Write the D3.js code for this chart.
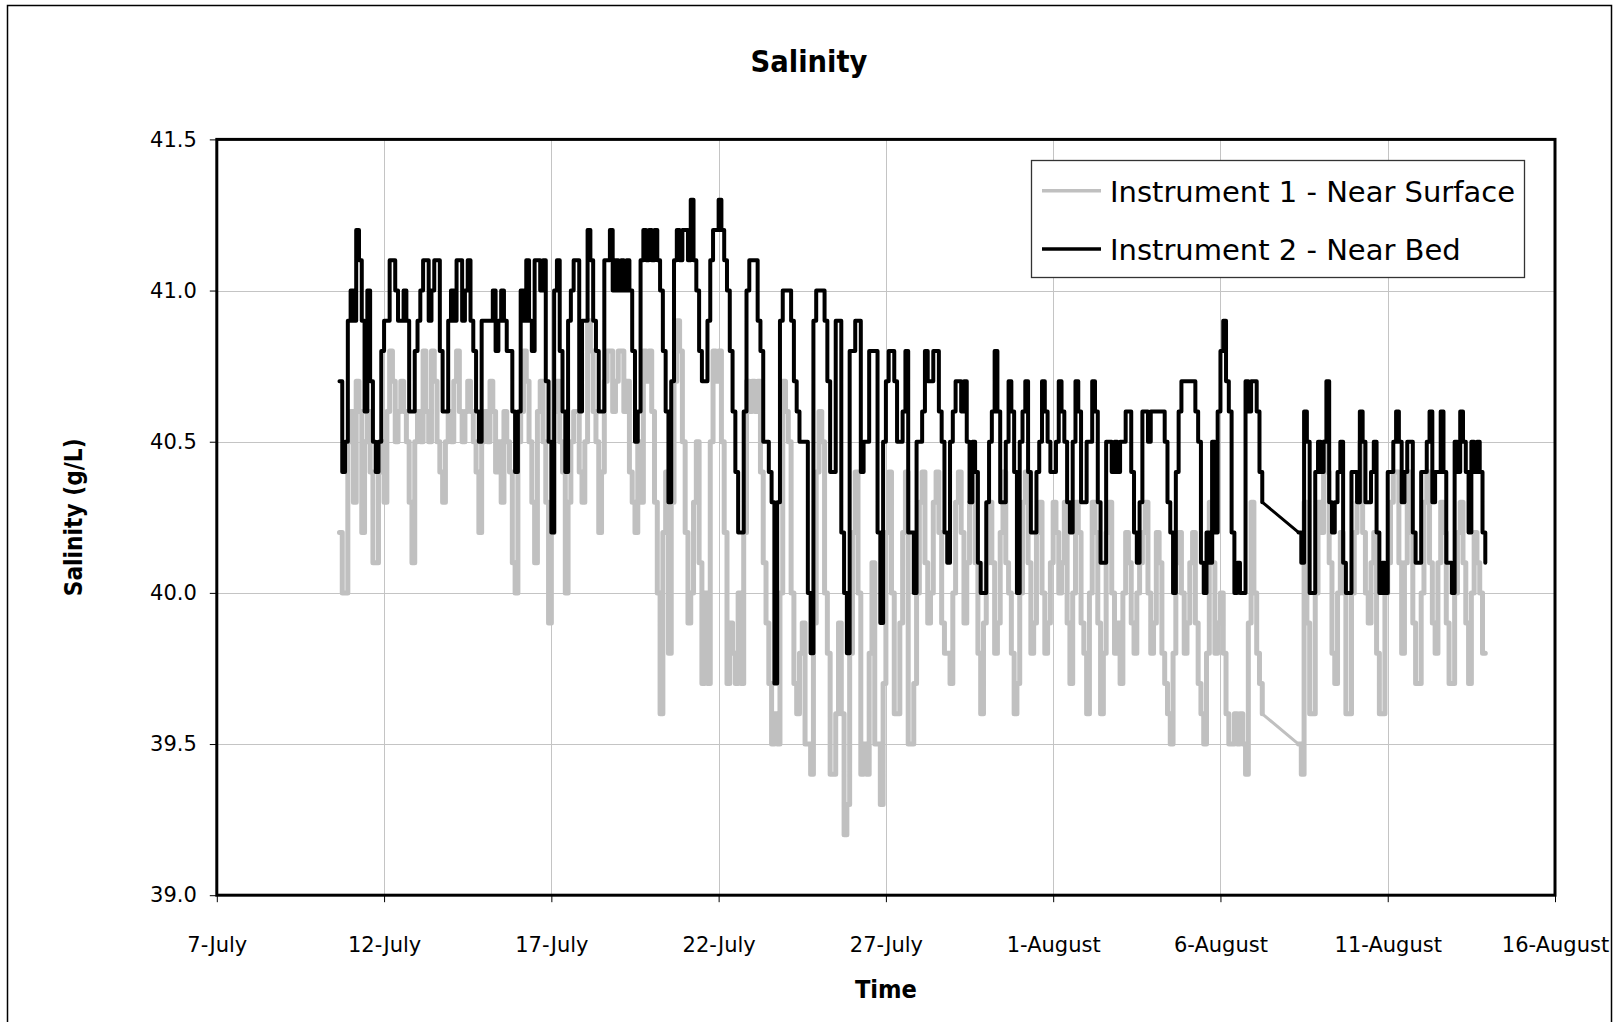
<!DOCTYPE html>
<html>
<head>
<meta charset="utf-8">
<title>Salinity</title>
<script src="https://cdn.jsdelivr.net/npm/d3@7"></script>
<style>
  html, body { margin: 0; padding: 0; background: #fff; }
  svg { display: block; font-family: "DejaVu Sans", Verdana, sans-serif; }
</style>
</head>
<body>
<svg id="chart" width="1619" height="1022"></svg>
<script>
// ---- Salinity records (g/L), one reading every 2 hours ----
// Recording was interrupted between 7 Aug 06:00 and 8 Aug 08:00, so each
// instrument is stored as two runs that start at SEGMENT_STARTS.
const SEGMENT_STARTS = ["2007-07-10T16:00", "2007-08-08T08:00"];
const STEP_HOURS = 2;

// Instrument 1 - near surface, run 1 (10 Jul 16:00 .. 7 Aug 06:00)
const SURFACE_RUN1 = [
  40.2, 40.0, 40.0, 40.5,
  40.6, 40.3, 40.7, 40.6, 40.2, 40.5, 40.6, 40.4, 40.1, 40.1, 40.4, 40.5,
  40.3, 40.6, 40.8, 40.7, 40.5, 40.6, 40.7, 40.6, 40.5, 40.3, 40.1, 40.5,
  40.6, 40.5, 40.8, 40.6, 40.5, 40.8, 40.7, 40.5, 40.4, 40.3, 40.5, 40.6,
  40.5, 40.7, 40.8, 40.6, 40.5, 40.6, 40.7, 40.6, 40.5, 40.4, 40.2, 40.5,
  40.6, 40.5, 40.7, 40.6, 40.4, 40.5, 40.3, 40.6, 40.5, 40.4, 40.1, 40.0,
  40.5, 40.6, 40.8, 40.7, 40.5, 40.3, 40.1, 40.6, 40.7, 40.5, 40.3, 39.9,
  40.2, 40.6, 40.7, 40.5, 40.4, 40.0, 40.3, 40.5, 40.6, 40.6, 40.4, 40.3,
  40.5, 40.9, 40.8, 40.6, 40.5, 40.2, 40.4, 40.7, 40.8, 40.8, 40.6, 40.7,
  40.8, 40.8, 40.6, 40.7, 40.4, 40.3, 40.2, 40.5, 40.3, 40.8, 40.7, 40.8,
  40.6, 40.3, 40.0, 39.6, 40.2, 40.4, 39.8, 40.3, 40.7, 40.9, 40.8, 40.5,
  40.2, 39.9, 40.0, 40.3, 40.5, 40.1, 39.7, 40.0, 39.7, 40.5, 40.8, 40.7,
  40.8, 40.5, 40.2, 39.7, 39.9, 39.8, 39.7, 40.0, 39.7, 40.2, 40.7, 40.6,
  40.7, 40.6, 40.7, 40.4, 40.1, 39.9, 39.7, 39.5, 39.6, 39.5, 40.0, 40.7,
  40.6, 40.5, 40.0, 39.7, 39.6, 39.8, 39.9, 39.5, 39.5, 39.4, 39.9, 40.4,
  40.6, 40.5, 40.0, 39.8, 39.4, 39.4, 39.6, 39.9, 39.6, 39.2, 39.3, 39.8,
  40.2, 40.4, 40.0, 39.4, 39.5, 39.4, 39.8, 40.1, 39.5, 39.5, 39.3, 39.7,
  40.2, 40.4, 40.0, 39.6, 39.6, 39.9, 40.2, 40.4, 39.5, 39.5, 39.7, 40.0,
  40.3, 40.4, 40.1, 39.9, 40.0, 40.3, 40.4, 40.2, 39.9, 39.8, 39.8, 39.7,
  40.0, 40.3, 40.4, 40.2, 39.9, 40.1, 40.3, 40.4, 40.1, 39.8, 39.6, 39.9,
  40.1, 40.3, 40.1, 39.8, 39.9, 40.2, 40.4, 40.1, 40.0, 39.8, 39.6, 39.7,
  40.0, 40.3, 40.4, 40.1, 39.8, 39.9, 40.2, 40.3, 40.0, 39.8, 39.9, 40.1,
  40.3, 40.2, 40.0, 40.1, 40.3, 39.9, 39.7, 40.0, 40.3, 40.2, 39.9, 39.8,
  39.6, 40.0, 40.3, 40.2, 39.9, 39.6, 39.8, 40.2, 40.3, 40.0, 39.8, 39.9,
  39.7, 40.0, 40.2, 40.1, 39.9, 39.8, 40.0, 40.1, 40.2, 40.3, 40.0, 39.8,
  39.9, 40.2, 40.1, 39.8, 39.7, 39.6, 39.5, 39.8, 40.1, 40.2, 40.0, 39.8,
  39.9, 40.1, 40.2, 39.9, 39.7, 39.6, 39.5, 39.8, 40.3, 40.1, 39.8, 39.9,
  40.0, 39.8, 39.6, 39.5, 39.5, 39.6, 39.5, 39.6, 39.5, 39.4, 39.9, 40.3,
  40.0, 39.8, 39.7, 39.6
];

// Instrument 1 - near surface, run 2 (8 Aug 08:00 .. 13 Aug 22:00)
const SURFACE_RUN2 = [
  39.5, 39.4, 40.3, 39.9, 39.6, 39.6, 40.0, 40.3,
  40.2, 40.5, 40.4, 40.1, 39.8, 39.7, 40.0, 40.2, 40.0, 39.6, 39.6, 40.0,
  40.2, 40.3, 40.5, 40.2, 40.0, 39.9, 40.1, 40.2, 39.8, 39.6, 39.6, 40.0,
  40.1, 40.3, 40.4, 40.4, 40.1, 39.8, 40.1, 40.4, 40.2, 39.9, 39.7, 39.7,
  40.0, 40.3, 40.4, 40.1, 39.9, 39.8, 40.1, 40.3, 40.2, 39.9, 39.7, 39.7,
  40.0, 40.2, 40.3, 40.1, 39.9, 39.7, 40.0, 40.2, 40.1, 40.0, 39.8, 39.8
];

// Instrument 2 - near bed, run 1 (10 Jul 16:00 .. 7 Aug 06:00)
const BED_RUN1 = [
  40.7, 40.4, 40.5, 40.9,
  41.0, 40.9, 41.2, 41.1, 40.9, 40.6, 41.0, 40.7, 40.5, 40.4, 40.5, 40.8,
  40.9, 40.9, 41.1, 41.1, 41.0, 40.9, 40.9, 41.0, 40.9, 40.6, 40.6, 40.8,
  40.9, 41.0, 41.1, 41.1, 40.9, 41.0, 41.1, 41.1, 40.8, 40.6, 40.6, 40.9,
  41.0, 40.9, 41.1, 41.1, 40.9, 41.0, 41.1, 40.9, 40.8, 40.6, 40.5, 40.9,
  40.9, 40.9, 40.9, 41.0, 40.8, 40.9, 41.0, 40.9, 40.8, 40.8, 40.6, 40.4,
  40.6, 41.0, 40.9, 41.1, 40.9, 40.8, 41.1, 41.1, 41.0, 41.1, 40.7, 40.5,
  40.2, 41.0, 41.1, 40.8, 40.6, 40.4, 40.9, 41.0, 41.1, 41.1, 40.6, 40.9,
  40.9, 41.2, 41.1, 40.9, 40.8, 40.6, 40.6, 41.1, 41.1, 41.2, 41.0, 41.1,
  41.0, 41.1, 41.0, 41.1, 41.0, 40.8, 40.5, 40.6, 41.1, 41.2, 41.1, 41.2,
  41.1, 41.2, 41.1, 41.0, 40.8, 40.6, 40.3, 40.7, 41.1, 41.2, 41.1, 41.2,
  41.2, 41.1, 41.3, 41.1, 41.0, 40.8, 40.7, 40.7, 40.9, 41.1, 41.2, 41.2,
  41.3, 41.2, 41.1, 41.0, 40.8, 40.6, 40.4, 40.2, 40.2, 40.6, 41.0, 41.1,
  41.1, 41.1, 40.9, 40.8, 40.5, 40.5, 40.4, 40.3, 39.7, 40.3, 40.9, 41.0,
  41.0, 41.0, 40.9, 40.7, 40.6, 40.5, 40.5, 40.5, 40.0, 39.8, 40.9, 41.0,
  41.0, 41.0, 40.9, 40.7, 40.4, 40.4, 40.9, 40.9, 40.2, 40.0, 39.8, 40.8,
  40.8, 40.9, 40.9, 40.4, 40.5, 40.5, 40.8, 40.8, 40.8, 40.2, 39.9, 40.5,
  40.7, 40.8, 40.8, 40.7, 40.5, 40.5, 40.6, 40.8, 40.2, 40.2, 40.0, 40.5,
  40.5, 40.6, 40.8, 40.7, 40.7, 40.8, 40.8, 40.6, 40.5, 40.2, 40.1, 40.5,
  40.6, 40.7, 40.7, 40.6, 40.7, 40.5, 40.3, 40.5, 40.4, 40.1, 40.0, 40.0,
  40.3, 40.5, 40.6, 40.8, 40.6, 40.3, 40.3, 40.5, 40.7, 40.6, 40.4, 40.0,
  40.5, 40.6, 40.7, 40.4, 40.2, 40.2, 40.4, 40.5, 40.7, 40.6, 40.5, 40.4,
  40.4, 40.5, 40.7, 40.6, 40.5, 40.3, 40.2, 40.5, 40.7, 40.6, 40.3, 40.3,
  40.5, 40.5, 40.7, 40.6, 40.3, 40.1, 40.1, 40.5, 40.5, 40.4, 40.5, 40.4,
  40.5, 40.5, 40.6, 40.6, 40.4, 40.2, 40.1, 40.3, 40.6, 40.6, 40.5, 40.6,
  40.6, 40.6, 40.6, 40.6, 40.5, 40.3, 40.2, 40.0, 40.4, 40.6, 40.7, 40.7,
  40.7, 40.7, 40.7, 40.6, 40.5, 40.1, 40.0, 40.2, 40.1, 40.5, 40.2, 40.6,
  40.8, 40.9, 40.7, 40.6, 40.2, 40.0, 40.1, 40.0, 40.0, 40.7, 40.6, 40.7,
  40.7, 40.6, 40.4, 40.3
];

// Instrument 2 - near bed, run 2 (8 Aug 08:00 .. 13 Aug 22:00)
const BED_RUN2 = [
  40.2, 40.1, 40.6, 40.5, 40.0, 40.0, 40.4, 40.5,
  40.4, 40.5, 40.7, 40.3, 40.2, 40.3, 40.4, 40.5, 40.1, 40.0, 40.0, 40.4,
  40.4, 40.3, 40.6, 40.5, 40.3, 40.3, 40.4, 40.5, 40.2, 40.0, 40.1, 40.0,
  40.4, 40.4, 40.5, 40.6, 40.5, 40.3, 40.4, 40.5, 40.5, 40.2, 40.1, 40.1,
  40.4, 40.4, 40.5, 40.6, 40.3, 40.4, 40.4, 40.6, 40.4, 40.1, 40.1, 40.0,
  40.5, 40.4, 40.6, 40.5, 40.4, 40.2, 40.5, 40.4, 40.5, 40.4, 40.2, 40.1
];

const SERIES_NAMES = ["Instrument 1 - Near Surface", "Instrument 2 - Near Bed"];
const SERIES_COLORS = ["#c0c0c0", "#000000"];
const SERIES_WIDTHS = [5, 4];

const X_TICK_DATES = ["2007-07-07", "2007-07-12", "2007-07-17", "2007-07-22", "2007-07-27",
                      "2007-08-01", "2007-08-06", "2007-08-11", "2007-08-16"];
const Y_TICKS = [39.0, 39.5, 40.0, 40.5, 41.0, 41.5];

const TITLE = "Salinity";
const X_TITLE = "Time";
const Y_TITLE = "Salinity (g/L)";

// ---- layout ----
const plot = { left: 216.8, right: 1555, top: 139.4, bottom: 895.2 };

const parseStamp = d3.utcParse("%Y-%m-%dT%H:%M");
const parseDay = d3.utcParse("%Y-%m-%d");
const tickDates = X_TICK_DATES.map(parseDay);

const x = d3.scaleUtc()
  .domain([tickDates[0], tickDates[tickDates.length - 1]])
  .range([plot.left, plot.right]);
const y = d3.scaleLinear()
  .domain([Y_TICKS[0], Y_TICKS[Y_TICKS.length - 1]])
  .range([plot.bottom, plot.top]);

// each run becomes a list of {t, v} points
function buildRuns(runs) {
  return runs.map((vals, i) => {
    const start = parseStamp(SEGMENT_STARTS[i]);
    return vals.map((v, k) => ({ t: d3.utcHour.offset(start, k * STEP_HOURS), v }));
  });
}
const series = [
  buildRuns([SURFACE_RUN1, SURFACE_RUN2]),
  buildRuns([BED_RUN1, BED_RUN2])
];

const svg = d3.select("#chart");

// outer chart frame
svg.append("rect")
  .attr("x", 7.5).attr("y", 5.5)
  .attr("width", 1604).attr("height", 1030)
  .attr("fill", "#fff").attr("stroke", "#000").attr("stroke-width", 1.5);

// gridlines
const grid = svg.append("g").attr("stroke", "#c4c4c4").attr("stroke-width", 1);
grid.selectAll("line.h").data(Y_TICKS).join("line")
  .attr("x1", plot.left).attr("x2", plot.right)
  .attr("y1", d => Math.round(y(d)) + 0.5).attr("y2", d => Math.round(y(d)) + 0.5);
grid.selectAll("line.v").data(tickDates).join("line")
  .attr("y1", plot.top).attr("y2", plot.bottom)
  .attr("x1", d => Math.round(x(d)) + 0.5).attr("x2", d => Math.round(x(d)) + 0.5);

// axes
const tickFont = 21;
const yAxis = svg.append("g")
  .attr("transform", `translate(${plot.left},0)`)
  .call(d3.axisLeft(y).tickValues(Y_TICKS).tickFormat(d3.format(".1f")).tickSize(7).tickPadding(13));
const xAxis = svg.append("g")
  .attr("transform", `translate(0,${plot.bottom})`)
  .call(d3.axisBottom(x).tickValues(tickDates).tickFormat(d3.utcFormat("%-d-%B")).tickSize(7));
[yAxis, xAxis].forEach(g => {
  g.select(".domain").remove();
  g.selectAll(".tick line").attr("stroke", "#000").attr("stroke-width", 1);
  g.selectAll(".tick text")
    .attr("fill", "#000")
    .attr("font-family", "DejaVu Sans, Verdana, sans-serif")
    .attr("font-size", tickFont);
});
xAxis.selectAll(".tick text").attr("dy", null).attr("y", 57);

// series lines: readings held until the next one; the logging gap is bridged straight
const clipId = "plot-clip";
svg.append("clipPath").attr("id", clipId)
  .append("rect")
  .attr("x", plot.left).attr("y", plot.top)
  .attr("width", plot.right - plot.left).attr("height", plot.bottom - plot.top);

const stepLine = d3.line().curve(d3.curveStepAfter).x(d => x(d.t)).y(d => y(d.v));
const straightLine = d3.line().x(d => x(d.t)).y(d => y(d.v));

const seriesG = svg.append("g").attr("clip-path", `url(#${clipId})`)
  .selectAll("g").data(series).join("g")
  .attr("fill", "none")
  .attr("stroke", (d, i) => SERIES_COLORS[i])
  .attr("stroke-width", (d, i) => SERIES_WIDTHS[i])
  .attr("stroke-linejoin", "round")
  .attr("stroke-linecap", "round");
seriesG.selectAll("path.run").data(d => d).join("path")
  .attr("class", "run")
  .attr("d", stepLine);
seriesG.append("path")
  .attr("class", "gap")
  .attr("stroke-width", 3)
  .attr("d", d => straightLine([d[0][d[0].length - 1], d[1][0]]));

// plot frame
svg.append("rect")
  .attr("x", plot.left).attr("y", plot.top)
  .attr("width", plot.right - plot.left).attr("height", plot.bottom - plot.top)
  .attr("fill", "none").attr("stroke", "#000").attr("stroke-width", 3);

// titles
svg.append("text")
  .attr("x", 809).attr("y", 72)
  .attr("text-anchor", "middle")
  .attr("font-weight", "bold").attr("font-size", 30)
  .attr("textLength", 117).attr("lengthAdjust", "spacingAndGlyphs")
  .text(TITLE);
svg.append("text")
  .attr("x", (plot.left + plot.right) / 2).attr("y", 998)
  .attr("text-anchor", "middle")
  .attr("font-weight", "bold").attr("font-size", 24)
  .attr("textLength", 62).attr("lengthAdjust", "spacingAndGlyphs")
  .text(X_TITLE);
svg.append("text")
  .attr("transform", `translate(82,${(plot.top + plot.bottom) / 2}) rotate(-90)`)
  .attr("text-anchor", "middle")
  .attr("font-weight", "bold").attr("font-size", 24)
  .attr("textLength", 158).attr("lengthAdjust", "spacingAndGlyphs")
  .text(Y_TITLE);

// legend
const legend = svg.append("g");
legend.append("rect")
  .attr("x", 1031.5).attr("y", 160.5).attr("width", 493).attr("height", 117)
  .attr("fill", "#fff").attr("stroke", "#333").attr("stroke-width", 1.3);
const rows = legend.selectAll("g.row").data(SERIES_NAMES).join("g")
  .attr("transform", (d, i) => `translate(0,${i === 0 ? 190.7 : 249})`);
rows.append("line")
  .attr("x1", 1042).attr("x2", 1101).attr("y1", 0).attr("y2", 0)
  .attr("stroke", (d, i) => SERIES_COLORS[i]).attr("stroke-width", 3.5);
rows.append("text")
  .attr("x", 1110).attr("y", 11)
  .attr("font-size", 29)
  .text(d => d);
</script>
</body>
</html>
